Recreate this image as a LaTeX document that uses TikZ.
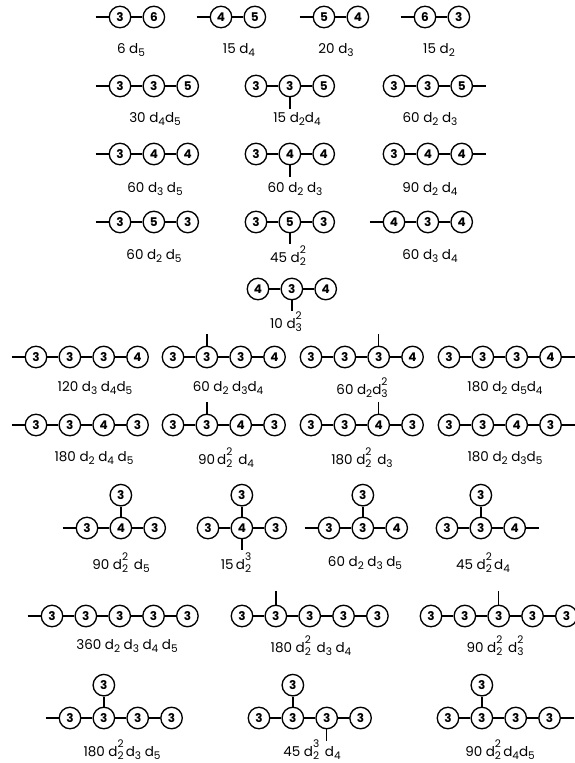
\documentclass[tikz,border=0pt]{standalone}
\usepackage{fontspec}
\setmainfont{Poppins}
\usetikzlibrary{positioning}

\newcommand{\ix}[1]{{\fontsize{10.5}{10.5}\selectfont #1}}
\newcommand{\dd}[1]{d\raisebox{-0.5ex}{\ix{#1}}}
\newcommand{\ddp}[2]{d\rlap{\raisebox{1.15ex}{\ix{#2}}}\raisebox{-0.5ex}{\ix{#1}}}

\begin{document}
\begin{tikzpicture}[
    x=1pt, y=-1pt,
    node distance=11pt,
    orb/.style={circle, draw, line width=1.35pt, minimum size=21.5pt, inner sep=0pt, font=\bfseries\fontsize{12}{12}\selectfont},
    link/.style={line width=1.35pt},
    tag/.style={font=\fontsize{13.5}{15}\selectfont}
]
\useasboundingbox (0,0) rectangle (575,763);

% row 1
\node[orb] (d1a) at (120,17) {3};
\node[orb, right=of d1a] (d1b) {6};
\coordinate[left=13pt of d1a] (d1s);
\draw[link] (d1s) -- (d1a) -- (d1b);
\node[tag] (l1) at (131,50) {6 \dd{5}};

\node[orb] (d2a) at (221,17) {4};
\node[orb, right=of d2a] (d2b) {5};
\coordinate[left=13pt of d2a] (d2s);
\draw[link] (d2s) -- (d2a) -- (d2b);
\node[tag] (l2) at (239,50) {15 \dd{4}};

\node[orb] (d3a) at (324,17) {5};
\node[orb, right=of d3a] (d3b) {4};
\coordinate[left=13pt of d3a] (d3s);
\draw[link] (d3s) -- (d3a) -- (d3b);
\node[tag] (l3) at (336,50) {20 \dd{3}};

\node[orb] (d4a) at (425,17) {6};
\node[orb, right=of d4a] (d4b) {3};
\coordinate[left=13pt of d4a] (d4s);
\draw[link] (d4s) -- (d4a) -- (d4b);
\node[tag] (l4) at (439,50) {15 \dd{2}};

% row 2
\node[orb] (d5a) at (120,86) {3};
\node[orb, right=of d5a] (d5b) {3};
\node[orb, right=of d5b] (d5c) {5};
\coordinate[left=13pt of d5a] (d5s);
\draw[link] (d5s) -- (d5a) -- (d5b) -- (d5c);
\node[tag] (l5) at (155,119) {30 \dd{4}\dd{5}};

\node[orb] (d6a) at (256,86) {3};
\node[orb, right=of d6a] (d6b) {3};
\node[orb, right=of d6b] (d6c) {5};
\coordinate[below=12pt of d6b] (d6s);
\draw[link] (d6a) -- (d6b) -- (d6c);
\draw[link] (d6b) -- (d6s);
\node[tag] (l6) at (297,119) {15 \dd{2}\dd{4}};

\node[orb] (d7a) at (394,86) {3};
\node[orb, right=of d7a] (d7b) {3};
\node[orb, right=of d7b] (d7c) {5};
\coordinate[right=13pt of d7c] (d7s);
\draw[link] (d7a) -- (d7b) -- (d7c) -- (d7s);
\node[tag] (l7) at (430,119) {60 \dd{2} \dd{3}};

% row 3
\node[orb] (d8a) at (120,154) {3};
\node[orb, right=of d8a] (d8b) {4};
\node[orb, right=of d8b] (d8c) {4};
\coordinate[left=13pt of d8a] (d8s);
\draw[link] (d8s) -- (d8a) -- (d8b) -- (d8c);
\node[tag] (l8) at (155,189) {60 \dd{3} \dd{5}};

\node[orb] (d9a) at (256,154) {3};
\node[orb, right=of d9a] (d9b) {4};
\node[orb, right=of d9b] (d9c) {4};
\coordinate[below=12pt of d9b] (d9s);
\draw[link] (d9a) -- (d9b) -- (d9c);
\draw[link] (d9b) -- (d9s);
\node[tag] (l9) at (295,189) {60 \dd{2} \dd{3}};

\node[orb] (d10a) at (394,154) {3};
\node[orb, right=of d10a] (d10b) {4};
\node[orb, right=of d10b] (d10c) {4};
\coordinate[right=13pt of d10c] (d10s);
\draw[link] (d10a) -- (d10b) -- (d10c) -- (d10s);
\node[tag] (l10) at (430,189) {90 \dd{2} \dd{4}};

% row 4
\node[orb] (d11a) at (120,222) {3};
\node[orb, right=of d11a] (d11b) {5};
\node[orb, right=of d11b] (d11c) {3};
\coordinate[left=13pt of d11a] (d11s);
\draw[link] (d11s) -- (d11a) -- (d11b) -- (d11c);
\node[tag] (l11) at (154,256) {60 \dd{2} \dd{5}};

\node[orb] (d12a) at (256,222) {3};
\node[orb, right=of d12a] (d12b) {5};
\node[orb, right=of d12b] (d12c) {3};
\coordinate[below=11pt of d12b] (d12s);
\draw[link] (d12a) -- (d12b) -- (d12c);
\draw[link] (d12b) -- (d12s);
\node[tag] (l12) at (288,256) {45 \ddp{2}{2}};

\node[orb] (d13a) at (394,222) {4};
\node[orb, right=of d13a] (d13b) {3};
\node[orb, right=of d13b] (d13c) {4};
\coordinate[left=13pt of d13a] (d13s);
\draw[link] (d13s) -- (d13a) -- (d13b) -- (d13c);
\node[tag] (l13) at (430,256) {60 \dd{3} \dd{4}};

% row 5
\node[orb] (d14a) at (258,289) {4};
\node[orb, right=of d14a] (d14b) {3};
\node[orb, right=of d14b] (d14c) {4};
\coordinate[below=11pt of d14b] (d14s);
\draw[link] (d14a) -- (d14b) -- (d14c);
\draw[link] (d14b) -- (d14s);
\node[tag] (l14) at (286,322) {10 \ddp{3}{2}};

% row 6
\node[orb] (d15a) at (36,357) {3};
\node[orb, right=of d15a] (d15b) {3};
\node[orb, right=of d15b] (d15c) {3};
\node[orb, right=of d15c] (d15d) {4};
\coordinate[left=13pt of d15a] (d15s);
\draw[link] (d15s) -- (d15a) -- (d15b) -- (d15c) -- (d15d);
\node[tag] (l15) at (95,388) {120 \dd{3} \dd{4}\dd{5}};

\node[orb] (d16a) at (173,357) {3};
\node[orb, right=of d16a] (d16b) {3};
\node[orb, right=of d16b] (d16c) {3};
\node[orb, right=of d16c] (d16d) {4};
\coordinate[above=12pt of d16b] (d16s);
\draw[link] (d16a) -- (d16b) -- (d16c) -- (d16d);
\draw[link] (d16b) -- (d16s);
\node[tag] (l16) at (228,388) {60 \dd{2} \dd{3}\dd{4}};

\node[orb] (d17a) at (311,357) {3};
\node[orb, right=of d17a] (d17b) {3};
\node[orb, right=of d17b] (d17c) {3};
\node[orb, right=of d17c] (d17d) {4};
\coordinate[above=12pt of d17c] (d17s);
\draw[link] (d17a) -- (d17b) -- (d17c) -- (d17d);
\draw[link] (d17c) -- (d17s);
\node[tag] (l17) at (362,388) {60 \dd{2}\ddp{3}{2}};

\node[orb] (d18a) at (449,357) {3};
\node[orb, right=of d18a] (d18b) {3};
\node[orb, right=of d18b] (d18c) {3};
\node[orb, right=of d18c] (d18d) {4};
\coordinate[right=13pt of d18d] (d18s);
\draw[link] (d18a) -- (d18b) -- (d18c) -- (d18d) -- (d18s);
\node[tag] (l18) at (505,388) {180 \dd{2} \dd{5}\dd{4}};

% row 7
\node[orb] (d19a) at (36,425) {3};
\node[orb, right=of d19a] (d19b) {3};
\node[orb, right=of d19b] (d19c) {4};
\node[orb, right=of d19c] (d19d) {3};
\coordinate[left=13pt of d19a] (d19s);
\draw[link] (d19s) -- (d19a) -- (d19b) -- (d19c) -- (d19d);
\node[tag] (l19) at (94,458) {180 \dd{2} \dd{4} \dd{5}};

\node[orb] (d20a) at (173,425) {3};
\node[orb, right=of d20a] (d20b) {3};
\node[orb, right=of d20b] (d20c) {4};
\node[orb, right=of d20c] (d20d) {3};
\coordinate[above=12pt of d20b] (d20s);
\draw[link] (d20a) -- (d20b) -- (d20c) -- (d20d);
\draw[link] (d20b) -- (d20s);
\node[tag] (l20) at (226,458) {90\,\ddp{2}{2}\, \dd{4}};

\node[orb] (d21a) at (311,425) {3};
\node[orb, right=of d21a] (d21b) {3};
\node[orb, right=of d21b] (d21c) {4};
\node[orb, right=of d21c] (d21d) {3};
\coordinate[above=12pt of d21c] (d21s);
\draw[link] (d21a) -- (d21b) -- (d21c) -- (d21d);
\draw[link] (d21c) -- (d21s);
\node[tag] (l21) at (362,458) {180 \ddp{2}{2}\, \dd{3}};

\node[orb] (d22a) at (449,425) {3};
\node[orb, right=of d22a] (d22b) {3};
\node[orb, right=of d22b] (d22c) {4};
\node[orb, right=of d22c] (d22d) {3};
\coordinate[right=13pt of d22d] (d22s);
\draw[link] (d22a) -- (d22b) -- (d22c) -- (d22d) -- (d22s);
\node[tag] (l22) at (505,458) {180 \dd{2} \dd{3}\dd{5}};

% row 8
\node[orb] (d23a) at (87,528) {3};
\node[orb, right=of d23a] (d23b) {4};
\node[orb, right=of d23b] (d23c) {3};
\node[orb, above=10pt of d23b] (d23t) {3};
\coordinate[left=13pt of d23a] (d23s);
\draw[link] (d23s) -- (d23a) -- (d23b) -- (d23c);
\draw[link] (d23b) -- (d23t);
\node[tag] (l23) at (121,563) {90 \ddp{2}{2}\, \dd{5}};

\node[orb] (d24a) at (208,528) {3};
\node[orb, right=of d24a] (d24b) {4};
\node[orb, right=of d24b] (d24c) {3};
\node[orb, above=10pt of d24b] (d24t) {3};
\coordinate[below=11pt of d24b] (d24s);
\draw[link] (d24a) -- (d24b) -- (d24c);
\draw[link] (d24t) -- (d24b) -- (d24s);
\node[tag] (l24) at (236,563) {15\,\ddp{2}{3}};

\node[orb] (d25a) at (329,528) {3};
\node[orb, right=of d25a] (d25b) {3};
\node[orb, right=of d25b] (d25c) {4};
\node[orb, above=10pt of d25b] (d25t) {3};
\coordinate[left=13pt of d25a] (d25s);
\draw[link] (d25s) -- (d25a) -- (d25b) -- (d25c);
\draw[link] (d25b) -- (d25t);
\node[tag] (l25) at (365,563) {60 \dd{2} \dd{3} \dd{5}};

\node[orb] (d26a) at (447,528) {3};
\node[orb, right=of d26a] (d26b) {3};
\node[orb, right=of d26b] (d26c) {4};
\node[orb, above=10pt of d26b] (d26t) {3};
\coordinate[right=13pt of d26c] (d26s);
\draw[link] (d26a) -- (d26b) -- (d26c) -- (d26s);
\draw[link] (d26b) -- (d26t);
\node[tag] (l26) at (483,563) {45 \ddp{2}{2}\,\dd{4}};

% row 9
\node[orb] (d27a) at (52,616) {3};
\node[orb, right=of d27a] (d27b) {3};
\node[orb, right=of d27b] (d27c) {3};
\node[orb, right=of d27c] (d27d) {3};
\node[orb, right=of d27d] (d27e) {3};
\coordinate[left=13pt of d27a] (d27s);
\draw[link] (d27s) -- (d27a) -- (d27b) -- (d27c) -- (d27d) -- (d27e);
\node[tag] (l27) at (127,646) {360 \dd{2} \dd{3} \dd{4} \dd{5}};

\node[orb] (d28a) at (242,616) {3};
\node[orb, right=of d28a] (d28b) {3};
\node[orb, right=of d28b] (d28c) {3};
\node[orb, right=of d28c] (d28d) {3};
\node[orb, right=of d28d] (d28e) {3};
\coordinate[above=14pt of d28b] (d28s);
\draw[link] (d28a) -- (d28b) -- (d28c) -- (d28d) -- (d28e);
\draw[link] (d28b) -- (d28s);
\node[tag] (l28) at (311,646) {180 \ddp{2}{2}\, \dd{3} \dd{4}};

\node[orb] (d29a) at (431,616) {3};
\node[orb, right=of d29a] (d29b) {3};
\node[orb, right=of d29b] (d29c) {3};
\node[orb, right=of d29c] (d29d) {3};
\node[orb, right=of d29d] (d29e) {3};
\coordinate[above=14pt of d29c] (d29s);
\draw[link] (d29a) -- (d29b) -- (d29c) -- (d29d) -- (d29e);
\draw[link] (d29c) -- (d29s);
\node[tag] (l29) at (495,646) {90 \ddp{2}{2}\, \ddp{3}{2}};

% row 10
\node[orb] (d30a) at (70,718) {3};
\node[orb, right=of d30a] (d30b) {3};
\node[orb, right=of d30b] (d30c) {3};
\node[orb, right=of d30c] (d30d) {3};
\node[orb, above=10pt of d30b] (d30t) {3};
\coordinate[left=13pt of d30a] (d30s);
\draw[link] (d30s) -- (d30a) -- (d30b) -- (d30c) -- (d30d);
\draw[link] (d30b) -- (d30t);
\node[tag] (l30) at (122,750) {180 \ddp{2}{2}\,\dd{3} \dd{5}};

\node[orb] (d31a) at (259,718) {3};
\node[orb, right=of d31a] (d31b) {3};
\node[orb, right=of d31b] (d31c) {3};
\node[orb, right=of d31c] (d31d) {3};
\node[orb, above=10pt of d31b] (d31t) {3};
\coordinate[below=12pt of d31c] (d31s);
\draw[link] (d31a) -- (d31b) -- (d31c) -- (d31d);
\draw[link] (d31b) -- (d31t);
\draw[link] (d31c) -- (d31s);
\node[tag] (l31) at (312,750) {45 \ddp{2}{3}\, \dd{4}};

\node[orb] (d32a) at (448,718) {3};
\node[orb, right=of d32a] (d32b) {3};
\node[orb, right=of d32b] (d32c) {3};
\node[orb, right=of d32c] (d32d) {3};
\node[orb, above=10pt of d32b] (d32t) {3};
\coordinate[right=13pt of d32d] (d32s);
\draw[link] (d32a) -- (d32b) -- (d32c) -- (d32d) -- (d32s);
\draw[link] (d32b) -- (d32t);
\node[tag] (l32) at (500,750) {90 \ddp{2}{2}\,\dd{4}\dd{5}};

\end{tikzpicture}
\end{document}
